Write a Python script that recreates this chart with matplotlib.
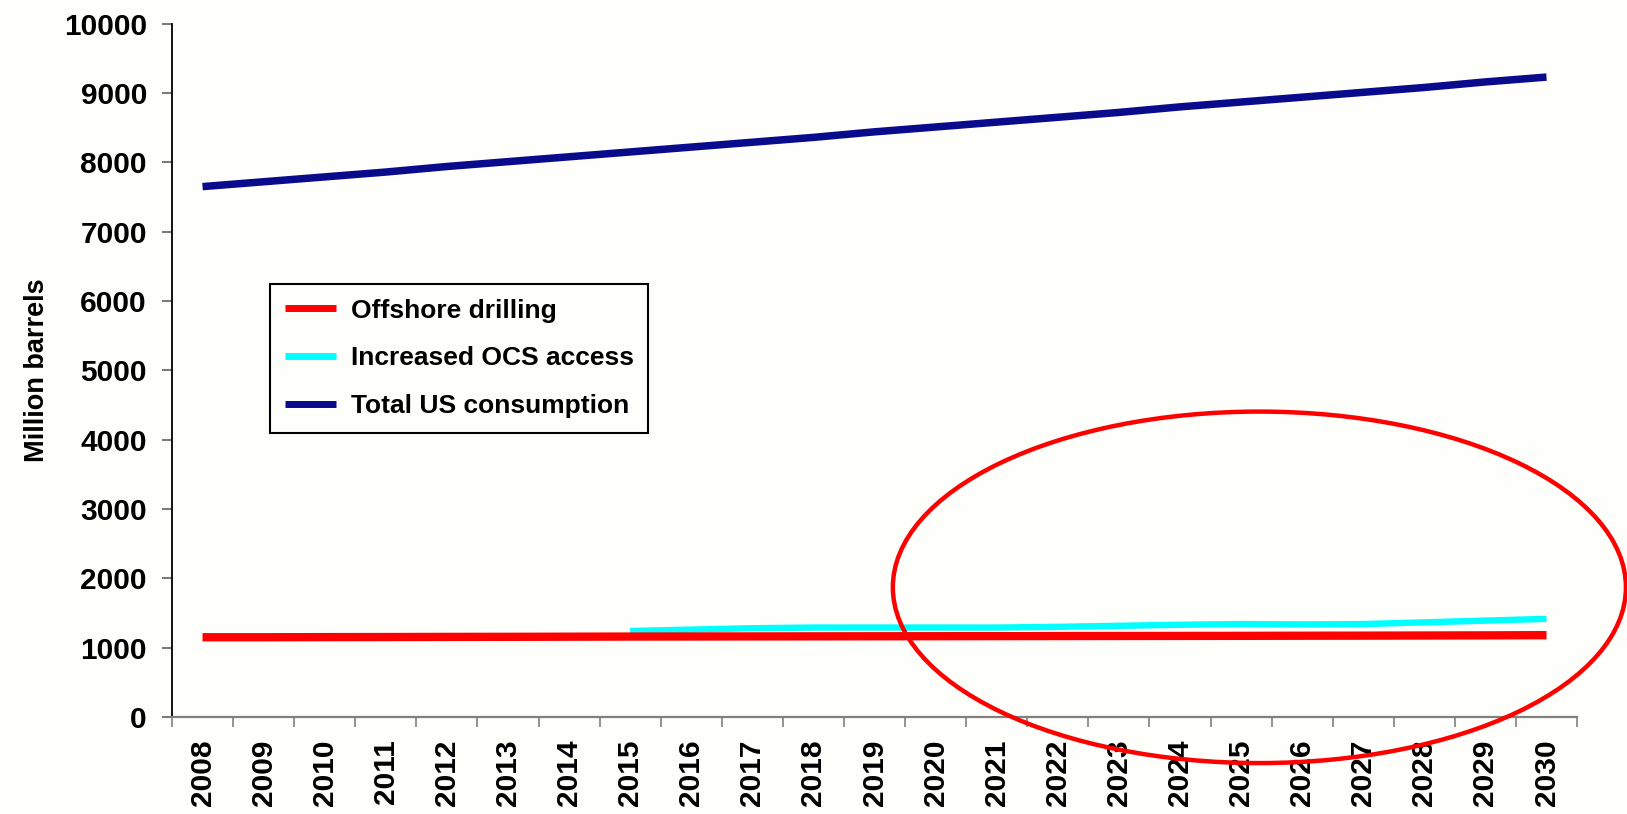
import matplotlib.pyplot as plt
from matplotlib.patches import Ellipse

# Oil production vs. consumption, million barrels per year
years = list(range(2008, 2031))
offshore_drilling = [1150, 1150, 1152, 1153, 1155, 1156, 1158, 1160, 1161, 1162, 1163, 1164,
                     1165, 1166, 1167, 1168, 1169, 1170, 1172, 1173, 1175, 1177, 1180]
ocs_years = list(range(2015, 2031))
ocs_access = [1240, 1260, 1280, 1290, 1290, 1290, 1290, 1300, 1315, 1330, 1340, 1335,
              1340, 1365, 1390, 1415]
total_consumption = [7650, 7720, 7790, 7860, 7940, 8010, 8080, 8150, 8220, 8290, 8360, 8440,
                     8510, 8580, 8650, 8720, 8800, 8870, 8940, 9010, 9080, 9160, 9230]

series_labels = ["Offshore drilling", "Increased OCS access", "Total US consumption"]
y_ticks = list(range(0, 10001, 1000))

# highlight ring around the late-period production lines (data coordinates)
ring_center = (2025.3, 1870)
ring_width = 12.0
ring_height = 5070

plt.rcParams["font.family"] = ["Liberation Sans", "DejaVu Sans"]
plt.rcParams["font.weight"] = "bold"

bg = "#fefefb"
fig = plt.figure(figsize=(16.27, 8.14), dpi=100, facecolor=bg)
ax = fig.add_axes([0.1057, 0.1192, 0.8636, 0.8517], facecolor=bg)

ax.plot(years, offshore_drilling, color="#ff0000", lw=6.0, solid_capstyle="butt",
        label=series_labels[0], zorder=3)
ax.plot(ocs_years, ocs_access, color="#00ffff", lw=4.6, solid_capstyle="butt",
        label=series_labels[1], zorder=2)
ax.plot(years, total_consumption, color="#0a0a8c", lw=5.4, solid_capstyle="butt",
        label=series_labels[2], zorder=3)

ax.add_patch(Ellipse(ring_center, ring_width, ring_height, fill=False,
                     edgecolor="#ff0000", lw=3.2, clip_on=False, zorder=4))

ax.set_xlim(years[0] - 0.5, years[-1] + 0.5)
ax.set_ylim(0, 10000)

# tick marks between categories, labels centred on each year
ax.set_xticks([y - 0.5 for y in years] + [years[-1] + 0.5])
ax.set_xticklabels([])
ax.set_xticks(years, minor=True)
ax.set_xticklabels([str(y) for y in years], minor=True, rotation=90,
                   fontsize=21.5, fontweight="bold")
ax.tick_params(axis="x", which="major", length=7, width=1.2, color="#808080", direction="out")
ax.tick_params(axis="x", which="minor", length=0, pad=16)

ax.set_yticks(y_ticks)
ax.set_yticklabels([str(v) for v in y_ticks], fontsize=21.5, fontweight="bold")
ax.tick_params(axis="y", length=7, width=1.2, color="#606060", pad=11)

for side in ["top", "right"]:
    ax.spines[side].set_visible(False)
ax.spines["left"].set_color("#000000")
ax.spines["left"].set_linewidth(1.3)
ax.spines["bottom"].set_color("#808080")
ax.spines["bottom"].set_linewidth(1.6)

ax.set_ylabel("Million barrels", fontsize=19.5, fontweight="bold", labelpad=10)

leg = ax.legend(loc="upper left", bbox_to_anchor=(0.0698, 0.6245), borderaxespad=0,
                prop={"size": 19, "weight": "bold"}, frameon=True, fancybox=False,
                edgecolor="#000000", facecolor=bg, framealpha=1, handlelength=1.95,
                handletextpad=0.55, labelspacing=0.9, borderpad=0.55)
leg.get_frame().set_linewidth(1.5)
for line in leg.get_lines():
    line.set_linewidth(5.0)

fig.savefig("out.png", dpi=100, facecolor=bg)
